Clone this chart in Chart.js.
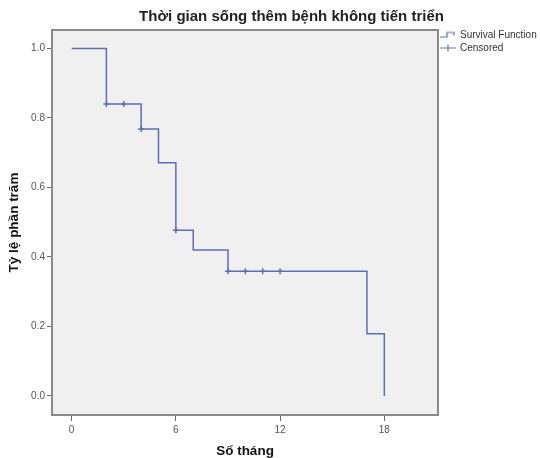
<!DOCTYPE html>
<html>
<head>
<meta charset="utf-8">
<script src="https://cdn.jsdelivr.net/npm/chart.js@4"></script>
<style>
  html, body { margin: 0; padding: 0; background: #ffffff; }
  #wrap { width: 540px; height: 458px; }
</style>
</head>
<body>
<div id="wrap"><canvas id="c" width="540" height="458"></canvas></div>
<script>
// ---- data ----
const eventTimes = [0, 2, 4, 5, 6, 7, 9, 17, 18];
const survival   = [1.0, 0.84, 0.768, 0.671, 0.477, 0.42, 0.359, 0.179, 0.0];
const censorTimes = [2, 3, 4, 6, 9, 10, 11, 12];
const censorSurv  = [0.84, 0.84, 0.768, 0.477, 0.359, 0.359, 0.359, 0.359];
const xTicks = [0, 6, 12, 18];
const yTicks = [0.0, 0.2, 0.4, 0.6, 0.8, 1.0];
const titleText = 'Thời gian sống thêm bệnh không tiến triển';
const xTitle = 'Số tháng';
const yTitle = 'Tỷ lệ phần trăm';
const legendNames = ['Survival Function', 'Censored'];

const LINE = '#5a6ebf';
Chart.defaults.font.family = "'Liberation Sans', Arial, sans-serif";

function makeIcon(kind) {
  const cv = document.createElement('canvas');
  cv.width = 16; cv.height = 9;
  const g = cv.getContext('2d');
  g.strokeStyle = LINE; g.lineWidth = 1.2;
  g.beginPath();
  if (kind === 'step') {
    g.moveTo(0, 6.5); g.lineTo(7, 6.5); g.lineTo(7, 2); g.lineTo(14, 2); g.lineTo(14, 5);
  } else {
    g.moveTo(0, 4.5); g.lineTo(16, 4.5); g.moveTo(8, 1); g.lineTo(8, 8);
  }
  g.stroke();
  return cv;
}
const icons = [makeIcon('step'), makeIcon('cross')];

const framePlugin = {
  id: 'frame',
  afterLayout(chart) {
    const t = chart.titleBlock;
    if (t) { t.left = 43; t.right = 540; }
    const lg = chart.legend;
    if (lg) { const h = lg.bottom - lg.top; lg.top = 27; lg.bottom = 27 + h; }
  },
  beforeDatasetsDraw(chart) {
    const a = chart.chartArea, ctx = chart.ctx;
    ctx.save();
    ctx.fillStyle = '#f0f0f0';
    ctx.fillRect(a.left, a.top, a.right - a.left, a.bottom - a.top);
    ctx.restore();
  },
  afterDraw(chart) {
    const a = chart.chartArea, ctx = chart.ctx;
    ctx.save();
    ctx.strokeStyle = '#8a8a8a';
    ctx.lineWidth = 2;
    ctx.strokeRect(a.left, a.top, a.right - a.left, a.bottom - a.top);
    ctx.restore();
  }
};

new Chart(document.getElementById('c'), {
  type: 'scatter',
  data: {
    datasets: [
      {
        label: legendNames[0],
        data: eventTimes.map((t, i) => ({ x: t, y: survival[i] })),
        showLine: true,
        stepped: true,
        borderColor: LINE,
        borderWidth: 1.5,
        pointRadius: 0,
        fill: false
      },
      {
        label: legendNames[1],
        data: censorTimes.map((t, i) => ({ x: t, y: censorSurv[i] })),
        showLine: false,
        pointStyle: 'cross',
        pointRadius: 3,
        borderColor: LINE,
        borderWidth: 1.5,
        backgroundColor: LINE
      }
    ]
  },
  options: {
    responsive: false,
    animation: false,
    layout: { padding: 0 },
    plugins: {
      tooltip: { enabled: false },
      title: {
        display: true,
        text: titleText,
        color: '#222222',
        font: { size: 15, weight: 'bold' },
        padding: { top: 8, bottom: 4 }
      },
      legend: {
        display: true,
        position: 'right',
        align: 'start',
        maxWidth: 102,
        labels: {
          usePointStyle: true,
          pointStyleWidth: 14,
          padding: 3,
          color: '#333333',
          font: { size: 10 },
          generateLabels: () => legendNames.map((n, i) => ({
            text: n, pointStyle: icons[i], fontColor: '#333333',
            strokeStyle: LINE, fillStyle: LINE, lineWidth: 0, hidden: false, datasetIndex: i
          }))
        }
      }
    },
    scales: {
      x: {
        type: 'linear',
        min: -1.13,
        max: 21.09,
        afterBuildTicks: s => { s.ticks = xTicks.map(v => ({ value: v })); },
        afterFit: s => { s.height = 43; },
        grid: { drawOnChartArea: false, drawTicks: true, tickLength: 6, color: '#666666', lineWidth: 1 },
        border: { display: false },
        ticks: { color: '#555555', font: { size: 10 }, padding: 3, maxRotation: 0 },
        title: { display: true, text: xTitle, color: '#111111', font: { size: 13.5, weight: 'bold', lineHeight: 1 }, padding: { top: 0, bottom: 0 } }
      },
      y: {
        type: 'linear',
        min: -0.055,
        max: 1.053,
        afterBuildTicks: s => { s.ticks = yTicks.map(v => ({ value: v })); },
        afterFit: s => { s.width = 52; },
        grid: { drawOnChartArea: false, drawTicks: true, tickLength: 5, color: '#666666', lineWidth: 1 },
        border: { display: false },
        ticks: { color: '#555555', font: { size: 10 }, padding: 2, callback: v => Number(v).toFixed(1) },
        title: { display: true, text: yTitle, color: '#111111', font: { size: 13.5, weight: 'bold', lineHeight: 1.2 }, padding: { top: 6, bottom: 0 } }
      }
    }
  },
  plugins: [framePlugin]
});
</script>
</body>
</html>
